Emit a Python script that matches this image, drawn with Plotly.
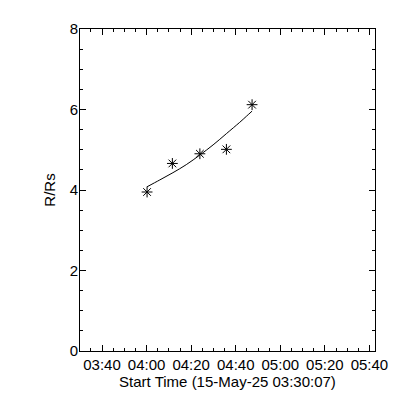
import plotly.graph_objects as go

# Observed data points (time, R/Rs)
obs_times = ["2025-05-15 04:00:13", "2025-05-15 04:11:34", "2025-05-15 04:23:55",
             "2025-05-15 04:35:49", "2025-05-15 04:47:20"]
obs_r = [3.95, 4.66, 4.90, 5.01, 6.12]

# Fitted curve
fit_times = ["2025-05-15 04:00:13", "2025-05-15 04:05:55", "2025-05-15 04:11:49",
             "2025-05-15 04:17:49", "2025-05-15 04:23:55", "2025-05-15 04:29:50",
             "2025-05-15 04:35:49", "2025-05-15 04:41:46", "2025-05-15 04:44:46",
             "2025-05-15 04:47:20"]
fit_r = [4.08, 4.25, 4.43, 4.63, 4.87, 5.12, 5.40, 5.68, 5.83, 5.96]

x_range = ["2025-05-15 03:30:07", "2025-05-15 05:42:30"]
x_title = "Start Time (15-May-25 03:30:07)"
y_title = "R/Rs"

FONT = dict(family="Liberation Sans", size=15, color="black")

fig = go.Figure()
fig.add_trace(go.Scatter(x=fit_times, y=fit_r, mode="lines",
                         line=dict(color="black", width=1, shape="spline"),
                         showlegend=False))
fig.add_trace(go.Scatter(x=obs_times, y=obs_r, mode="markers",
                         marker=dict(symbol="asterisk-open", size=9, color="black",
                                     line=dict(color="black", width=1)),
                         showlegend=False))

fig.update_layout(
    width=392, height=392,
    margin=dict(l=72, r=24, t=16, b=49),
    paper_bgcolor="white", plot_bgcolor="white",
    font=FONT,
    xaxis=dict(
        type="date", range=x_range,
        tick0="2025-05-15 03:40:00", dtick=1200000, tickformat="%H:%M",
        ticks="inside", ticklen=6, tickwidth=1, tickcolor="black",
        showline=True, linecolor="black", linewidth=1, mirror="allticks",
        showgrid=False, zeroline=False,
        minor=dict(dtick=300000, tick0="2025-05-15 03:40:00", ticks="inside",
                   ticklen=3, tickcolor="black", showgrid=False),
        title=dict(text=x_title, font=FONT, standoff=4),
        tickfont=FONT,
    ),
    yaxis=dict(
        range=[0, 8], tick0=0, dtick=2,
        ticks="inside", ticklen=6, tickwidth=1, tickcolor="black",
        showline=True, linecolor="black", linewidth=1, mirror="allticks",
        showgrid=False, zeroline=False,
        minor=dict(dtick=0.5, ticks="inside", ticklen=3, tickcolor="black", showgrid=False),
        title=dict(text=y_title, font=FONT, standoff=10),
        tickfont=FONT,
        ticklabelstandoff=-2,
    ),
)

fig.write_html("out.html")
